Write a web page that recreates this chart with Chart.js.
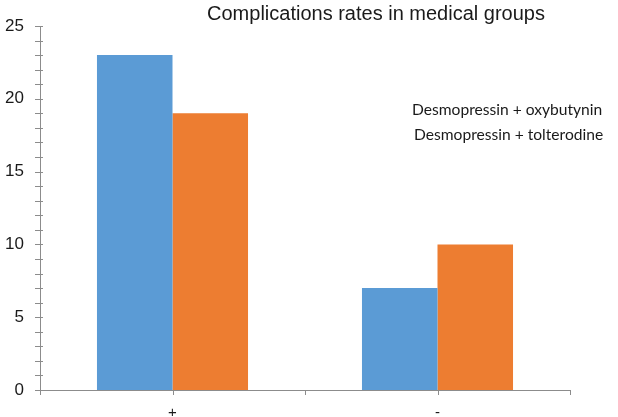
<!DOCTYPE html>
<html>
<head>
<meta charset="utf-8">
<script src="https://cdn.jsdelivr.net/npm/chart.js@4/dist/chart.umd.min.js"></script>
<style>
  html, body { margin: 0; padding: 0; background: #fff; }
  #wrap { width: 618px; height: 417px; }
</style>
</head>
<body>
<div id="wrap"><canvas id="ComplicationsChart"></canvas></div>
<script>
var categories = ['+', '-'];
var oxybutyninValues = [23, 7];
var tolterodineValues = [19, 10];
var seriesNames = ['Desmopressin + oxybutynin', 'Desmopressin + tolterodine'];
var chartTitle = 'Complications rates in medical groups';

var axisColor = '#8c8c8c';

// title drawn off-centre like the original, legend as plain text (no swatches)
var textPlugin = {
    id: 'textPlugin',
    afterDraw: function (chart) {
        var ctx = chart.ctx;
        ctx.save();
        ctx.fillStyle = '#1a1a1a';
        ctx.font = '20px "Liberation Sans", Arial, sans-serif';
        ctx.textAlign = 'center';
        ctx.textBaseline = 'middle';
        ctx.fillText(chartTitle, 376, 14);

        ctx.font = '15.6px Lato, sans-serif';
        ctx.textAlign = 'left';
        chart.data.datasets.forEach(function (ds, i) {
            ctx.fillText(ds.label, 412 + i * 2, 110 + i * 25);
        });

        ctx.strokeStyle = axisColor;
        ctx.lineWidth = 1;

        // x tick marks at category centres and boundaries
        var x = chart.scales.x;
        var yBottom = chart.chartArea.bottom;
        var step = x.getPixelForValue(1) - x.getPixelForValue(0);
        for (var i = 0; i <= categories.length * 2; i++) {
            var px = Math.round(x.getPixelForValue(0) - step / 2 + i * step / 2) + 0.5;
            ctx.beginPath();
            ctx.moveTo(px, yBottom);
            ctx.lineTo(px, yBottom + 5);
            ctx.stroke();
        }

        // y tick marks crossing the axis
        var y = chart.scales.y;
        var xLeft = chart.chartArea.left;
        y.ticks.forEach(function (t) {
            var py = Math.round(y.getPixelForValue(t.value)) + 0.5;
            ctx.beginPath();
            ctx.moveTo(xLeft - 5, py);
            ctx.lineTo(xLeft + 3, py);
            ctx.stroke();
        });
        ctx.restore();
    }
};

new Chart(document.getElementById('ComplicationsChart').getContext('2d'), {
    type: 'bar',
    data: {
        labels: categories,
        datasets: [
            {
                label: seriesNames[0],
                data: oxybutyninValues,
                backgroundColor: '#5b9bd5',
                borderWidth: 0
            },
            {
                label: seriesNames[1],
                data: tolterodineValues,
                backgroundColor: '#ed7d31',
                borderWidth: 0
            }
        ]
    },
    options: {
        responsive: true,
        maintainAspectRatio: false,
        animation: false,
        layout: { padding: { left: 0, right: 48, top: 26, bottom: 0 } },
        plugins: {
            legend: { display: false },
            title: { display: false },
            tooltip: { enabled: false }
        },
        datasets: {
            bar: { categoryPercentage: 0.57, barPercentage: 1 }
        },
        scales: {
            x: {
                afterFit: function (s) { s.height = 27; },
                grid: { display: false },
                border: { color: axisColor },
                ticks: {
                    color: '#1a1a1a',
                    padding: 6,
                    font: { size: 15, family: '"Liberation Sans", Arial, sans-serif' }
                }
            },
            y: {
                min: 0,
                max: 25,
                afterFit: function (s) { s.width = 40; },
                grid: { display: false },
                border: { color: axisColor },
                ticks: {
                    stepSize: 1,
                    autoSkip: false,
                    color: '#1a1a1a',
                    padding: 8,
                    font: { size: 17, family: '"Liberation Sans", Arial, sans-serif' },
                    callback: function (v) { return v % 5 === 0 ? v : ''; }
                }
            }
        }
    },
    plugins: [textPlugin]
});
</script>
</body>
</html>
